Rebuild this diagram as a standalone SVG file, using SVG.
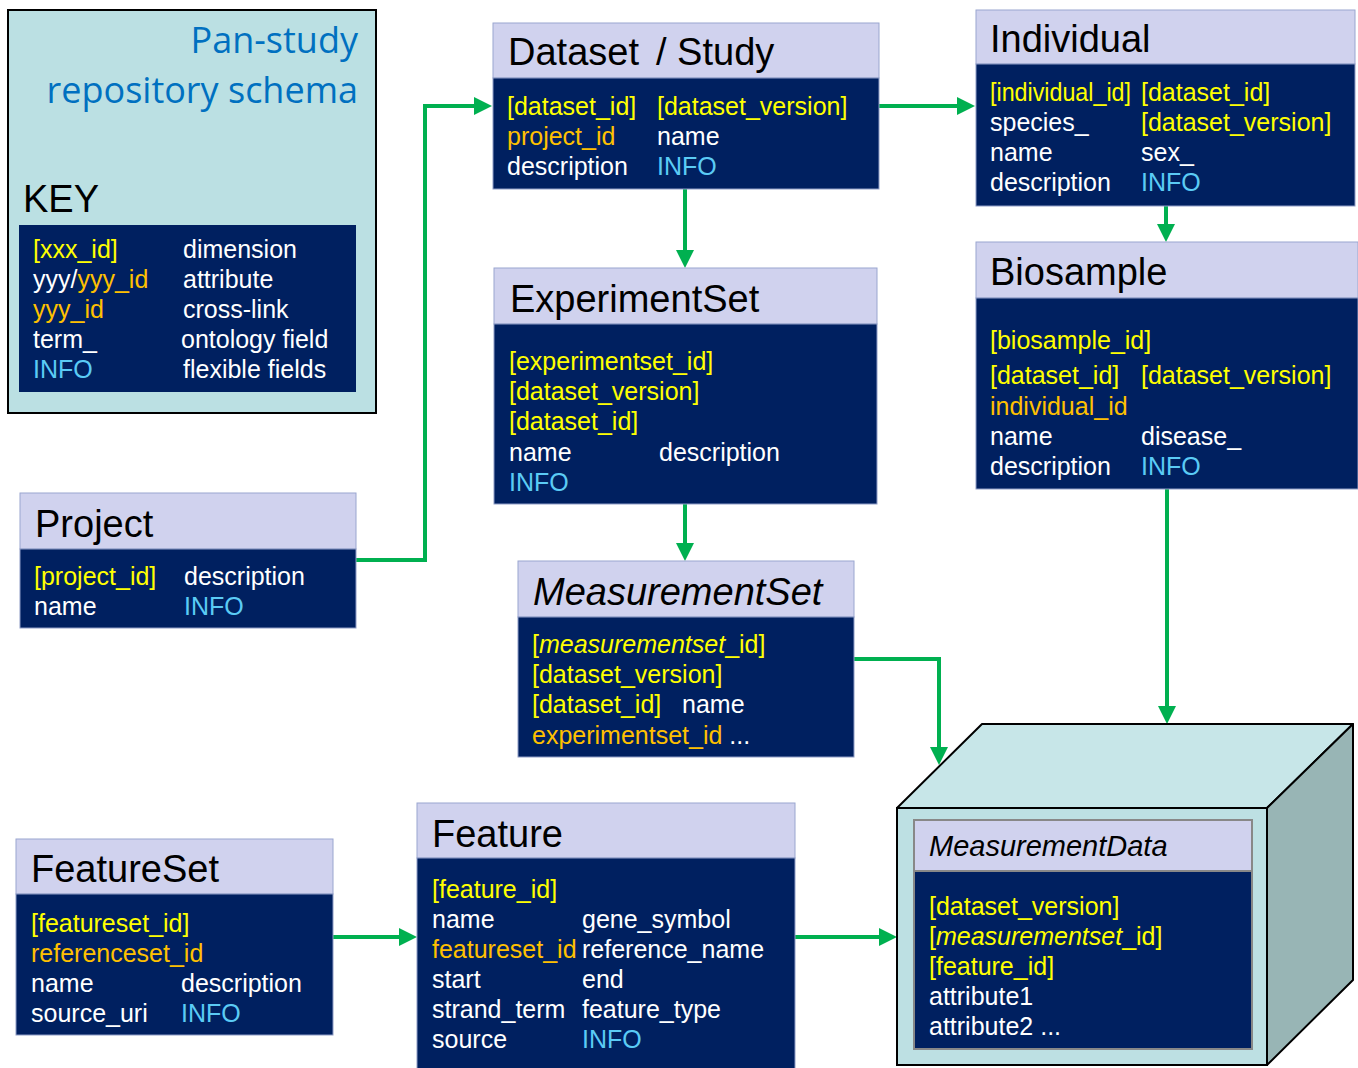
<svg xmlns="http://www.w3.org/2000/svg" width="1358" height="1068" viewBox="0 0 1358 1068">
<defs>
<marker id="ah" markerUnits="userSpaceOnUse" markerWidth="18" markerHeight="18" refX="8" refY="9" orient="auto">
<path d="M0,0 L18,9 L0,18 z" fill="#00B050"/>
</marker>
<style>
.hd{fill:#D0D2EE;stroke:#9AA6CF;stroke-width:1}
.bd{fill:#002060;stroke:#8E9CC6;stroke-width:1}
text{font-family:"Liberation Sans",Arial,sans-serif}
.t{font-size:38px;fill:#000}
.r{font-size:25px;fill:#fff}
.y{fill:#FFFF00}
.o{fill:#FFC000}
.i{fill:#5BCBF5}
.w{fill:#fff}
.it{font-style:italic}
.cn{fill:none;stroke:#00B050;stroke-width:4;marker-end:url(#ah)}
</style>
</defs>
<rect width="1358" height="1068" fill="#fff"/>

<g id="key">
<rect x="8" y="10" width="368" height="403" fill="#BBE0E3" stroke="#000" stroke-width="2"/>
<text x="358" y="53" text-anchor="end" style="font-family:'Open Sans',sans-serif;font-size:36px;fill:#0070C0">Pan-study</text>
<text x="358" y="103" text-anchor="end" style="font-family:'Open Sans',sans-serif;font-size:36px;fill:#0070C0">repository schema</text>
<text x="23" y="212" class="t">KEY</text>
<rect x="19" y="225" width="337" height="167" fill="#002060"/>
<text class="r" x="33" y="258"><tspan class="y">[xxx_id]</tspan></text>
<text class="r" x="183" y="258">dimension</text>
<text class="r" x="33" y="288">yyy/<tspan class="o">yyy_id</tspan></text>
<text class="r" x="183" y="288">attribute</text>
<text class="r" x="33" y="318"><tspan class="o">yyy_id</tspan></text>
<text class="r" x="183" y="318">cross-link</text>
<text class="r" x="33" y="348">term_</text>
<text class="r" x="181" y="348">ontology field</text>
<text class="r" x="33" y="378"><tspan class="i">INFO</tspan></text>
<text class="r" x="183" y="378">flexible fields</text>
</g>

<g id="connectors">
<path class="cn" d="M356,560 H425 V106 H482"/>
<path class="cn" d="M879,106 H965"/>
<path class="cn" d="M685,189 V258"/>
<path class="cn" d="M1166,206 V232"/>
<path class="cn" d="M685,504 V551"/>
<path class="cn" d="M854,659 H939 V755"/>
<path class="cn" d="M1167,489 V714"/>
<path class="cn" d="M333,937 H407"/>
<path class="cn" d="M795,937 H887"/>
</g>

<g id="dataset">
<rect class="hd" x="493" y="23" width="386" height="55"/>
<rect class="bd" x="493" y="78" width="386" height="111"/>
<text class="t" x="508" y="65">Dataset</text>
<text class="t" x="656" y="65">/ Study</text>
<text class="r" x="507" y="115"><tspan class="y">[dataset_id]</tspan></text>
<text class="r" x="657" y="115"><tspan class="y">[dataset_version]</tspan></text>
<text class="r" x="507" y="145"><tspan class="o">project_id</tspan></text>
<text class="r" x="657" y="145">name</text>
<text class="r" x="507" y="175">description</text>
<text class="r" x="657" y="175"><tspan class="i">INFO</tspan></text>
</g>

<g id="individual">
<rect class="hd" x="976" y="10" width="379" height="54"/>
<rect class="bd" x="976" y="64" width="379" height="142"/>
<text class="t" x="990" y="52">Individual</text>
<text class="r" x="990" y="101" textLength="141" lengthAdjust="spacingAndGlyphs"><tspan class="y">[individual_id]</tspan></text>
<text class="r" x="1141" y="101"><tspan class="y">[dataset_id]</tspan></text>
<text class="r" x="990" y="131">species_</text>
<text class="r" x="1141" y="131"><tspan class="y">[dataset_version]</tspan></text>
<text class="r" x="990" y="161">name</text>
<text class="r" x="1141" y="161">sex_</text>
<text class="r" x="990" y="191">description</text>
<text class="r" x="1141" y="191"><tspan class="i">INFO</tspan></text>
</g>

<g id="biosample">
<rect class="hd" x="976" y="242" width="382" height="56"/>
<rect class="bd" x="976" y="298" width="382" height="191"/>
<text class="t" x="990" y="285">Biosample</text>
<text class="r" x="990" y="349"><tspan class="y">[biosample_id]</tspan></text>
<text class="r" x="990" y="384"><tspan class="y">[dataset_id]</tspan></text>
<text class="r" x="1141" y="384"><tspan class="y">[dataset_version]</tspan></text>
<text class="r" x="990" y="415"><tspan class="o">individual_id</tspan></text>
<text class="r" x="990" y="445">name</text>
<text class="r" x="1141" y="445">disease_</text>
<text class="r" x="990" y="475">description</text>
<text class="r" x="1141" y="475"><tspan class="i">INFO</tspan></text>
</g>

<g id="experimentset">
<rect class="hd" x="494" y="268" width="383" height="56"/>
<rect class="bd" x="494" y="324" width="383" height="180"/>
<text class="t" x="510" y="312">ExperimentSet</text>
<text class="r" x="509" y="370"><tspan class="y">[experimentset_id]</tspan></text>
<text class="r" x="509" y="400"><tspan class="y">[dataset_version]</tspan></text>
<text class="r" x="509" y="430"><tspan class="y">[dataset_id]</tspan></text>
<text class="r" x="509" y="461">name</text>
<text class="r" x="659" y="461">description</text>
<text class="r" x="509" y="491"><tspan class="i">INFO</tspan></text>
</g>

<g id="measurementset">
<rect class="hd" x="518" y="561" width="336" height="56"/>
<rect class="bd" x="518" y="617" width="336" height="140"/>
<text class="t it" x="533" y="605">MeasurementSet</text>
<text class="r y" x="532" y="653">[<tspan class="it">measurementset</tspan>_id]</text>
<text class="r" x="532" y="683"><tspan class="y">[dataset_version]</tspan></text>
<text class="r" x="532" y="713"><tspan class="y">[dataset_id]</tspan></text>
<text class="r" x="682" y="713">name</text>
<text class="r" x="532" y="744"><tspan class="o">experimentset_id</tspan> ...</text>
</g>

<g id="project">
<rect class="hd" x="20" y="493" width="336" height="56"/>
<rect class="bd" x="20" y="549" width="336" height="79"/>
<text class="t" x="35" y="537">Project</text>
<text class="r" x="34" y="585"><tspan class="y">[project_id]</tspan></text>
<text class="r" x="184" y="585">description</text>
<text class="r" x="34" y="615">name</text>
<text class="r" x="184" y="615"><tspan class="i">INFO</tspan></text>
</g>

<g id="featureset">
<rect class="hd" x="16" y="839" width="317" height="55"/>
<rect class="bd" x="16" y="894" width="317" height="141"/>
<text class="t" x="31" y="882">FeatureSet</text>
<text class="r" x="31" y="932"><tspan class="y">[featureset_id]</tspan></text>
<text class="r" x="31" y="962"><tspan class="o">referenceset_id</tspan></text>
<text class="r" x="31" y="992">name</text>
<text class="r" x="181" y="992">description</text>
<text class="r" x="31" y="1022">source_uri</text>
<text class="r" x="181" y="1022"><tspan class="i">INFO</tspan></text>
</g>

<g id="feature">
<rect class="hd" x="417" y="803" width="378" height="55"/>
<rect class="bd" x="417" y="858" width="378" height="212"/>
<text class="t" x="432" y="847">Feature</text>
<text class="r" x="432" y="898"><tspan class="y">[feature_id]</tspan></text>
<text class="r" x="432" y="928">name</text>
<text class="r" x="582" y="928">gene_symbol</text>
<text class="r" x="432" y="958"><tspan class="o">featureset_id</tspan></text>
<text class="r" x="582" y="958">reference_name</text>
<text class="r" x="432" y="988">start</text>
<text class="r" x="582" y="988">end</text>
<text class="r" x="432" y="1018">strand_term</text>
<text class="r" x="582" y="1018">feature_type</text>
<text class="r" x="432" y="1048">source</text>
<text class="r" x="582" y="1048"><tspan class="i">INFO</tspan></text>
</g>

<g id="measurementdata">
<polygon points="897,808 982,724 1353,724 1267,808" fill="#C7E6E8" stroke="#000" stroke-width="2" stroke-linejoin="round"/>
<polygon points="1267,808 1353,724 1353,980 1267,1065" fill="#98B5B5" stroke="#000" stroke-width="2" stroke-linejoin="round"/>
<rect x="897" y="808" width="370" height="257" fill="#BDE0E3" stroke="#000" stroke-width="2"/>
<rect x="914" y="820" width="338" height="51" fill="#D0D2EE" stroke="#888" stroke-width="2"/>
<rect x="914" y="871" width="338" height="178" fill="#002060" stroke="#888" stroke-width="2"/>
<text x="929" y="856" class="it" style="font-size:29px;fill:#000">MeasurementData</text>
<text class="r" x="929" y="915"><tspan class="y">[dataset_version]</tspan></text>
<text class="r y" x="929" y="945">[<tspan class="it">measurementset</tspan>_id]</text>
<text class="r" x="929" y="975"><tspan class="y">[feature_id]</tspan></text>
<text class="r" x="929" y="1005">attribute1</text>
<text class="r" x="929" y="1035">attribute2 ...</text>
</g>
</svg>
